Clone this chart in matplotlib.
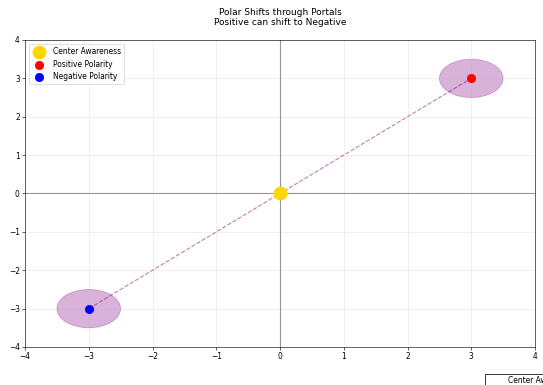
import matplotlib.pyplot as plt
from matplotlib.patches import Ellipse

# punkte
center = (0, 0)
positive = (3, 3)
negative = (-3, -3)
portal_w = 1.0
portal_h = 1.0

fig = plt.figure(figsize=(10, 385 / 54.3), dpi=54.3)
ax = fig.add_axes([25 / 543, 1 - 347 / 385, 510 / 543, 307 / 385])

ax.axhline(0, color='gray', lw=1.5, alpha=0.8)
ax.axvline(0, color='gray', lw=1.5, alpha=0.8)

for p in [positive, negative]:
    ax.add_patch(Ellipse(p, portal_w, portal_h, color='purple', alpha=0.3))

ax.plot([negative[0], positive[0]], [negative[1], positive[1]], '--', color='purple', alpha=0.5)

ax.scatter(*center, s=300, color='gold', label='Center Awareness', zorder=5)
ax.scatter(*positive, s=120, color='red', label='Positive Polarity', zorder=5)
ax.scatter(*negative, s=120, color='blue', label='Negative Polarity', zorder=5)

ax.set_xlim(-4, 4)
ax.set_ylim(-4, 4)
ax.grid(True, alpha=0.3)
ax.legend(loc='upper left')
ax.set_title('Polar Shifts through Portals\nPositive can shift to Negative', fontsize=12, pad=20)

fig.text(487 / 543, 1 - 376 / 385, 'Center Awareness\ncan observe the shift in poles',
         fontsize=10, va='top', ha='left', multialignment='center',
         bbox=dict(boxstyle='square', facecolor='white', edgecolor='black'))

fig.savefig('out.png', dpi=54.3)
